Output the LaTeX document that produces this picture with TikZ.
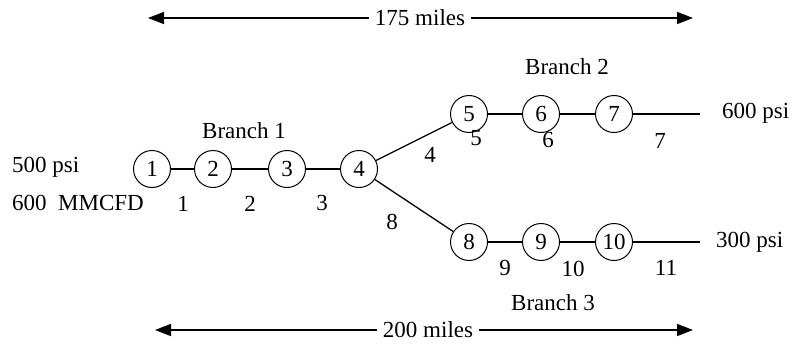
\documentclass[tikz,border=0pt]{standalone}
\usepackage{fontspec}
\setmainfont{Liberation Serif}
\usetikzlibrary{arrows.meta}
\begin{document}
\begin{tikzpicture}[x=1pt,y=-1pt,
  every node/.style={font=\fontsize{23}{26}\selectfont},
  junc/.style={draw,circle,minimum size=37pt,inner sep=0pt,line width=1pt},
  pipe/.style={line width=1.3pt},
  lbl/.style={inner sep=0pt},
  dimline/.style={line width=1.5pt,-{Triangle[length=16pt,width=12pt]}}]
\useasboundingbox (0,0) rectangle (793,348);
% junctions
\node[junc] (n1) at (152,169) {1};
\node[junc] (n2) at (213,169) {2};
\node[junc] (n3) at (287,169) {3};
\node[junc] (n4) at (359,169) {4};
\node[junc] (n5) at (469,114) {5};
\node[junc] (n6) at (541,114) {6};
\node[junc] (n7) at (614,114) {7};
\node[junc] (n8) at (469,242) {8};
\node[junc] (n9) at (541,242) {9};
\node[junc] (n10) at (614,242) {10};
\coordinate (e7) at (700,114);
\coordinate (e10) at (700,242);
% pipes
\draw[pipe] (n1) -- (n2);
\draw[pipe] (n2) -- (n3);
\draw[pipe] (n3) -- (n4);
\draw[pipe] (n4) -- (n5);
\draw[pipe] (n5) -- (n6);
\draw[pipe] (n6) -- (n7);
\draw[pipe] (n7) -- (e7);
\draw[pipe] (n4) -- (n8);
\draw[pipe] (n8) -- (n9);
\draw[pipe] (n9) -- (n10);
\draw[pipe] (n10) -- (e10);
% pipe labels
\node[lbl] (p1) at (183,204) {1};
\node[lbl] (p2) at (250,204) {2};
\node[lbl] (p3) at (322,203) {3};
\node[lbl] (p4) at (430,155) {4};
\node[lbl] (p5) at (476,138) {5};
\node[lbl] (p6) at (548,140) {6};
\node[lbl] (p7) at (660,141) {7};
\node[lbl] (p8) at (392,222) {8};
\node[lbl] (p9) at (505,268) {9};
\node[lbl] (p10) at (573,269) {10};
\node[lbl] (p11) at (666,268) {11};
% texts
\node[lbl,anchor=west] (in1) at (12,167) {500 psi};
\node[lbl,anchor=west] (in2) at (12,203) {600\ \ MMCFD};
\node[lbl,anchor=west] (out1) at (722,113) {600 psi};
\node[lbl,anchor=west] (out2) at (716,242) {300 psi};
\node[lbl] (b1) at (244,131) {Branch 1};
\node[lbl] (b2) at (567,67) {Branch 2};
\node[lbl] (b3) at (553,303) {Branch 3};
% dimension arrows
\node[lbl] (d1) at (420,18) {175 miles};
\coordinate (d1l) at (148,18);
\coordinate (d1r) at (693,18);
\draw[dimline] ([xshift=-6pt]d1.west) -- (d1l);
\draw[dimline] ([xshift=6pt]d1.east) -- (d1r);
\node[lbl] (d2) at (428,330) {200 miles};
\coordinate (d2l) at (155,330);
\coordinate (d2r) at (693,330);
\draw[dimline] ([xshift=-6pt]d2.west) -- (d2l);
\draw[dimline] ([xshift=6pt]d2.east) -- (d2r);
\end{tikzpicture}
\end{document}
